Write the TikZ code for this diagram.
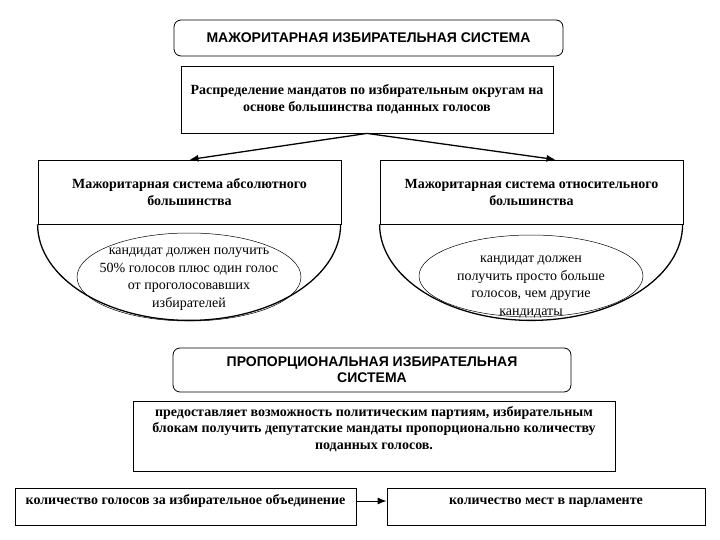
\documentclass[tikz,border=0pt]{standalone}
\usepackage{fontspec}
\setmainfont{Liberation Serif}
\newfontfamily\headfont{Liberation Sans}
\usetikzlibrary{shapes.geometric, arrows.meta}

\begin{document}
\begin{tikzpicture}[x=1pt, y=-1pt,
		headbox/.style={draw, line width=0.8pt, rounded corners=7pt, align=center,
			font=\headfont\bfseries\fontsize{14}{16}\selectfont},
		textbox/.style={draw, line width=0.8pt, align=center,
			font=\bfseries\fontsize{14}{17}\selectfont},
		condtext/.style={align=center, font=\fontsize{14}{17.5}\selectfont},
		link/.style={-{Latex[length=9pt, width=7pt]}, line width=1.3pt}]
	\useasboundingbox (0, 0) rectangle (720, 540);
	\node[headbox, minimum width=389, minimum height=36] (major) at (368.5, 38)
		{МАЖОРИТАРНАЯ ИЗБИРАТЕЛЬНАЯ СИСТЕМА};
	\node[textbox, minimum width=372, minimum height=67] (distr) at (367, 99.5)
		{Распределение мандатов по избирательным округам на\\основе большинства поданных голосов};
	\node[textbox, minimum width=303, minimum height=64] (absol) at (189.5, 192)
		{Мажоритарная система абсолютного\\большинства};
	\node[textbox, minimum width=303, minimum height=64] (relat) at (531.5, 192)
		{Мажоритарная система относительного\\большинства};
	\draw[link] (distr.south) -- (absol.north);
	\draw[link] (distr.south) -- ([xshift=24pt]relat.north);
	\draw[line width=1.3pt] (absol.south west)
		arc[start angle=180, end angle=360, x radius=151.5pt, y radius=96pt];
	\draw[line width=1.3pt] (relat.south west)
		arc[start angle=180, end angle=360, x radius=151.5pt, y radius=96pt];
	\node[condtext] (abscond) at (189, 279)
		{кандидат должен получить\\50\% голосов плюс один голос\\от проголосовавших\\избирателей};
	\draw[line width=0.5pt] ([yshift=2pt]abscond.center) ellipse [x radius=112pt, y radius=44pt];
	\node[condtext] (relcond) at (531, 287)
		{кандидат должен\\получить просто больше\\голосов, чем другие\\кандидаты};
	\draw[line width=0.5pt] ([yshift=11pt]relcond.center) ellipse [x radius=112pt, y radius=41pt];
	\node[headbox, minimum width=398, minimum height=44] (propor) at (372, 370)
		{ПРОПОРЦИОНАЛЬНАЯ ИЗБИРАТЕЛЬНАЯ\\СИСТЕМА};
	\node[textbox, minimum width=482, minimum height=70, font=\bfseries\fontsize{14}{16.5}\selectfont]
		(chance) at (374, 436)
		{предоставляет возможность политическим партиям, избирательным\\блокам получить депутатские мандаты пропорционально количеству\\поданных голосов.\\\mbox{}};
	\node[textbox, minimum width=341, text height=12pt, text depth=18pt] (votes) at (185.5, 507)
		{количество голосов за избирательное объединение};
	\node[textbox, minimum width=318, text height=12pt, text depth=18pt] (seats) at (546, 507)
		{количество мест в парламенте};
	\draw[link, line width=1pt] ([yshift=6pt]votes.east) -- ([yshift=6pt]seats.west);
\end{tikzpicture}
\end{document}
